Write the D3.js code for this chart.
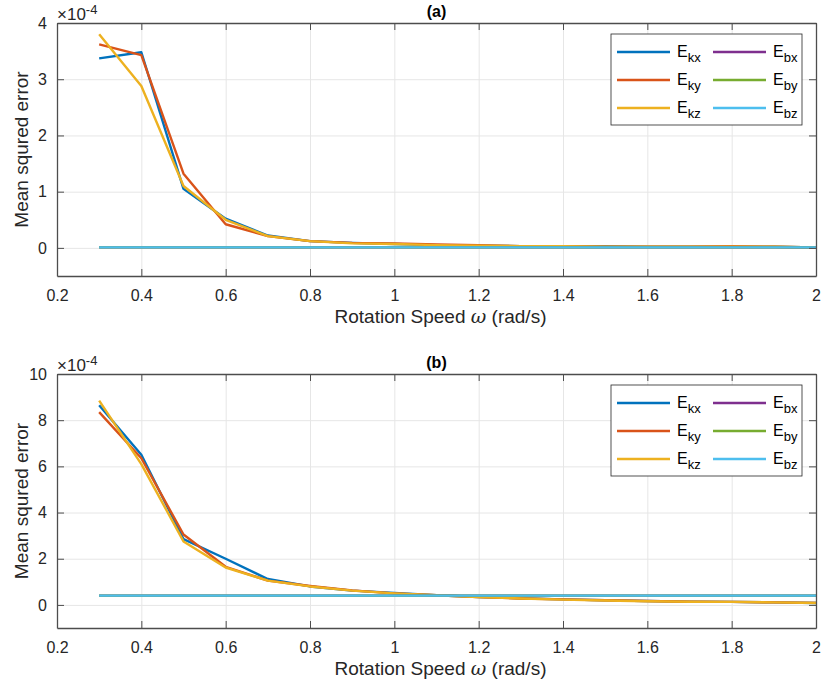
<!DOCTYPE html>
<html>
<head>
<meta charset="utf-8">
<script src="https://cdn.jsdelivr.net/npm/d3@7"></script>
<style>
  body { margin: 0; background: #fff; }
  svg { font-family: "Liberation Sans", Arial, sans-serif; }
  .grid line { stroke: #e6e6e6; stroke-width: 1; }
  .grid path { display: none; }
  .axis path, .axis line { stroke: #4d4d4d; }
  .axis text { fill: #262626; font-size: 16px; }
</style>
</head>
<body>
<svg id="chart" width="825" height="689"></svg>
<script>
// rotation speeds (rad/s)
let speeds = [0.3, 0.4, 0.5, 0.6, 0.7, 0.8, 0.9, 1.0, 1.1, 1.2, 1.3, 1.4, 1.5, 1.6, 1.7, 1.8, 1.9, 2.0];
let seriesNames = ["kx", "ky", "kz", "bx", "by", "bz"];
let colors = ["#0072BD", "#D95319", "#EDB120", "#7E2F8E", "#77AC30", "#4DBEEE"];

// panel (a), values x 1e-4
let aKx = [3.37, 3.48, 1.05, 0.52, 0.22, 0.12, 0.09, 0.07, 0.05, 0.04, 0.03, 0.03, 0.03, 0.02, 0.02, 0.02, 0.02, 0.01];
let aKy = [3.62, 3.43, 1.32, 0.42, 0.21, 0.12, 0.09, 0.08, 0.06, 0.05, 0.03, 0.03, 0.02, 0.02, 0.02, 0.03, 0.02, 0.01];
let aKz = [3.80, 2.88, 1.10, 0.50, 0.21, 0.12, 0.08, 0.07, 0.05, 0.04, 0.03, 0.03, 0.02, 0.02, 0.02, 0.02, 0.02, 0.01];
let aBx = [0.01, 0.01, 0.01, 0.01, 0.01, 0.01, 0.01, 0.01, 0.01, 0.01, 0.01, 0.01, 0.01, 0.01, 0.01, 0.01, 0.01, 0.01];
let aBy = [0.01, 0.01, 0.01, 0.01, 0.01, 0.01, 0.01, 0.01, 0.01, 0.01, 0.01, 0.01, 0.01, 0.01, 0.01, 0.01, 0.01, 0.01];
let aBz = [0.01, 0.01, 0.01, 0.01, 0.01, 0.01, 0.01, 0.01, 0.01, 0.01, 0.01, 0.01, 0.01, 0.01, 0.01, 0.01, 0.01, 0.01];

// panel (b), values x 1e-4
let bKx = [8.65, 6.50, 2.85, 2.00, 1.12, 0.80, 0.62, 0.52, 0.42, 0.34, 0.29, 0.24, 0.20, 0.17, 0.14, 0.13, 0.11, 0.08];
let bKy = [8.35, 6.35, 3.05, 1.65, 1.05, 0.82, 0.63, 0.50, 0.42, 0.34, 0.28, 0.24, 0.20, 0.17, 0.14, 0.13, 0.11, 0.09];
let bKz = [8.85, 6.10, 2.75, 1.62, 1.05, 0.80, 0.62, 0.50, 0.42, 0.34, 0.28, 0.23, 0.19, 0.16, 0.14, 0.13, 0.11, 0.08];
let bBx = [0.40, 0.40, 0.40, 0.40, 0.40, 0.40, 0.40, 0.40, 0.40, 0.40, 0.40, 0.40, 0.40, 0.40, 0.40, 0.40, 0.40, 0.40];
let bBy = [0.40, 0.40, 0.40, 0.40, 0.40, 0.40, 0.40, 0.40, 0.40, 0.40, 0.40, 0.40, 0.40, 0.40, 0.40, 0.40, 0.40, 0.40];
let bBz = [0.40, 0.40, 0.40, 0.40, 0.40, 0.40, 0.40, 0.40, 0.40, 0.40, 0.40, 0.40, 0.40, 0.40, 0.40, 0.40, 0.40, 0.40];

let xTicks = [0.2, 0.4, 0.6, 0.8, 1, 1.2, 1.4, 1.6, 1.8, 2];
let aYTicks = [0, 1, 2, 3, 4];
let bYTicks = [0, 2, 4, 6, 8, 10];

let svg = d3.select("#chart");

// draws one MATLAB-style subplot
function drawPanel(opts) {
    let left = 57, right = 816;
    let xScale = d3.scaleLinear().domain([0.2, 2]).range([left, right]);
    let yScale = d3.scaleLinear().domain(opts.yDomain).range([opts.bottom, opts.top]);
    let g = svg.append("g");

    // grid lines
    g.append("g").attr("class", "grid")
        .attr("transform", "translate(0," + opts.top + ")")
        .call(d3.axisBottom(xScale).tickValues(xTicks).tickFormat("").tickSize(opts.bottom - opts.top));
    g.append("g").attr("class", "grid")
        .attr("transform", "translate(" + left + ",0)")
        .call(d3.axisRight(yScale).tickValues(opts.yTicks).tickFormat("").tickSize(right - left));

    // series lines
    let line = d3.line().x((d, i) => xScale(speeds[i])).y((d) => yScale(d));
    opts.series.forEach((vals, k) => {
        g.append("path")
            .attr("d", line(vals))
            .attr("fill", "none")
            .attr("stroke", colors[k])
            .attr("stroke-width", 2.4)
            .attr("stroke-linejoin", "round");
    });

    // axes with inward ticks, box on all sides
    g.append("g").attr("class", "axis")
        .attr("transform", "translate(0," + opts.bottom + ")")
        .call(d3.axisBottom(xScale).tickValues(xTicks).tickFormat(d3.format("")).tickSizeInner(-7).tickSizeOuter(0).tickPadding(14));
    g.append("g").attr("class", "axis")
        .attr("transform", "translate(0," + opts.top + ")")
        .call(d3.axisTop(xScale).tickValues(xTicks).tickFormat("").tickSizeInner(-7).tickSizeOuter(0));
    g.append("g").attr("class", "axis")
        .attr("transform", "translate(" + left + ",0)")
        .call(d3.axisLeft(yScale).tickValues(opts.yTicks).tickFormat(d3.format("")).tickSizeInner(-7).tickSizeOuter(0).tickPadding(10));
    g.append("g").attr("class", "axis")
        .attr("transform", "translate(" + right + ",0)")
        .call(d3.axisRight(yScale).tickValues(opts.yTicks).tickFormat("").tickSizeInner(-7).tickSizeOuter(0));
    g.selectAll(".axis path").attr("stroke-width", 1.3);

    // title
    g.append("text")
        .attr("x", (left + right) / 2).attr("y", opts.top - 6)
        .attr("text-anchor", "middle")
        .style("font-size", "16px").style("font-weight", "bold").attr("fill", "#000")
        .text(opts.title);

    // x10^-4 exponent label
    let ex = g.append("text").attr("x", left).attr("y", opts.top - 3)
        .style("font-size", "17px").attr("fill", "#262626");
    ex.append("tspan").text("\u00d710");
    ex.append("tspan").attr("dy", -6).style("font-size", "13px").text("-4");

    // axis titles
    g.append("text")
        .attr("x", (left + right) / 2 + 4).attr("y", opts.bottom + 47)
        .attr("text-anchor", "middle").style("font-size", "19px").attr("fill", "#262626")
        .html("Rotation Speed <tspan font-family='DejaVu Serif' font-style='italic'>\u03c9</tspan> (rad/s)");
    g.append("text")
        .attr("transform", "translate(28," + (opts.top + opts.bottom) / 2 + ") rotate(-90)")
        .attr("text-anchor", "middle").style("font-size", "19px").attr("fill", "#262626")
        .text("Mean squred error");

    // legend
    let lg = g.append("g").attr("transform", "translate(" + (right - 205) + "," + opts.legendTop + ")");
    lg.append("rect").attr("width", 191).attr("height", 91)
        .attr("fill", "#fff").attr("stroke", "#262626").attr("stroke-width", 0.8);
    seriesNames.forEach((name, k) => {
        let col = Math.floor(k / 3), row = k % 3;
        let x0 = 6 + col * 96, y0 = 18 + row * 28;
        lg.append("line").attr("x1", x0).attr("x2", x0 + 53).attr("y1", y0).attr("y2", y0)
            .attr("stroke", colors[k]).attr("stroke-width", 2.4);
        let t = lg.append("text").attr("x", x0 + 60).attr("y", y0 + 5)
            .style("font-size", "16px").attr("fill", "#000");
        t.append("tspan").text("E");
        t.append("tspan").attr("dy", 5).style("font-size", "13px").text(name);
    });
}

drawPanel({ title: "(a)", top: 23, bottom: 276, yDomain: [-0.5, 4], yTicks: aYTicks,
    series: [aKx, aKy, aKz, aBx, aBy, aBz], legendTop: 34 });
drawPanel({ title: "(b)", top: 374, bottom: 628, yDomain: [-1, 10], yTicks: bYTicks,
    series: [bKx, bKy, bKz, bBx, bBy, bBz], legendTop: 385 });
</script>
</body>
</html>
